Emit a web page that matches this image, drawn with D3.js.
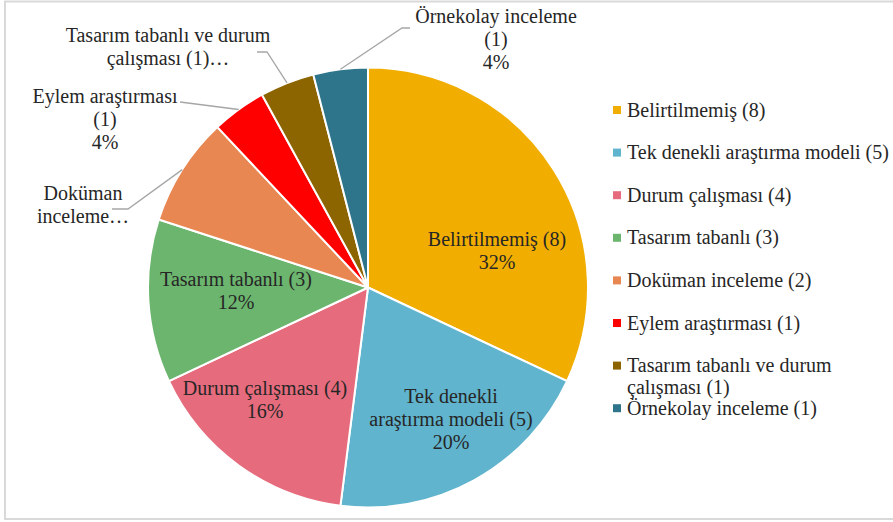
<!DOCTYPE html>
<html><head><meta charset="utf-8">
<script src="https://cdn.jsdelivr.net/npm/d3@7"></script>
<style>
html,body{margin:0;padding:0;background:#fff;}
svg{display:block;}
</style></head>
<body>
<svg id="c" width="893" height="522"></svg>
<script>
// ---- data ----
const categories = ["Belirtilmemiş","Tek denekli araştırma modeli","Durum çalışması","Tasarım tabanlı","Doküman inceleme","Eylem araştırması","Tasarım tabanlı ve durum çalışması","Örnekolay inceleme"];
const counts = [8,5,4,3,2,1,1,1];
const colors = ["#F1AE00","#60B4CD","#E66C7D","#6CB56E","#E88752","#FF0000","#8C6400","#2E758B"];
// label text lines (as shown in chart)
const sliceLabels = [
  ["Belirtilmemiş (8)","32%"],
  ["Tek denekli","araştırma modeli (5)","20%"],
  ["Durum çalışması (4)","16%"],
  ["Tasarım tabanlı (3)","12%"],
  ["Doküman","inceleme…"],
  ["Eylem araştırması","(1)","4%"],
  ["Tasarım tabanlı ve durum","çalışması (1)…"],
  ["Örnekolay inceleme","(1)","4%"]
];
const legendLabels = [
  ["Belirtilmemiş (8)"],
  ["Tek denekli araştırma modeli (5)"],
  ["Durum çalışması (4)"],
  ["Tasarım tabanlı (3)"],
  ["Doküman inceleme (2)"],
  ["Eylem araştırması (1)"],
  ["Tasarım tabanlı ve durum","çalışması (1)"],
  ["Örnekolay inceleme (1)"]
];

// ---- layout ----
const FONT = "'Liberation Serif','Times New Roman',Times,'Noto Serif','DejaVu Serif',serif";
const cx = 368, cy = 287.5, R = 220;
const fontSize = 20, lineH = 23;
const labelPos = [
  {x:497,y:246},{x:451,y:403},{x:265,y:395},{x:236,y:286},
  {x:83,y:200, lead:[[112,209],[128,209]]},
  {x:105,y:103, lead:[[180,102]]},
  {x:168,y:42, lead:[[257,52],[267,52]]},
  {x:496,y:23, lead:[[410,28],[402,28]]}
];

const svg = d3.select("#c");
svg.append("rect").attr("x",5).attr("y",1.5).attr("width",900).attr("height",517.5)
  .attr("fill","#fff").attr("stroke","#d9d9d9").attr("stroke-width",2);

const pie = d3.pie().value(d=>d).sort(null).startAngle(0).endAngle(2*Math.PI);
const arcs = pie(counts);
const arc = d3.arc().innerRadius(0).outerRadius(R);
const edgeArc = d3.arc().innerRadius(R).outerRadius(R);

const g = svg.append("g").attr("transform",`translate(${cx},${cy})`);
g.selectAll("path").data(arcs).join("path")
  .attr("d",arc).attr("fill",(d,i)=>colors[i])
  .attr("stroke","#fff").attr("stroke-width",2).attr("stroke-linejoin","round");

arcs.forEach((a,i)=>{
  const lp = labelPos[i];
  if(!lp.lead) return;
  const c = edgeArc.centroid(a);
  const pts = lp.lead.concat([[c[0]+cx, c[1]+cy]]);
  svg.append("path").attr("d", d3.line()(pts))
    .attr("fill","none").attr("stroke","#A6A6A6").attr("stroke-width",1.3);
});

sliceLabels.forEach((lines,i)=>{
  const lp = labelPos[i];
  const t = svg.append("text").attr("text-anchor","middle")
    .attr("font-family",FONT).attr("font-size",fontSize).attr("fill","#262626");
  lines.forEach((s,j)=>{
    t.append("tspan").attr("x",lp.x).attr("y",lp.y+j*lineH).text(s);
  });
});

const legX = 613, legY0 = 110, legStep = 42.6;
const leg = svg.append("g");
legendLabels.forEach((lines,i)=>{
  const y = legY0 + i*legStep;
  leg.append("rect").attr("x",legX).attr("y",y-4).attr("width",8).attr("height",8).attr("fill",colors[i]);
  const t = leg.append("text").attr("font-family",FONT).attr("font-size",fontSize).attr("fill","#262626");
  lines.forEach((s,j)=>{
    t.append("tspan").attr("x",627).attr("y",y+6.5+j*(lineH-1)).text(s);
  });
});
</script>
</body></html>
